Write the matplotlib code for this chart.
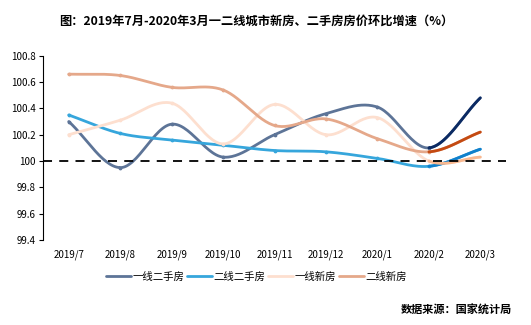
import matplotlib.pyplot as plt
import numpy as np

plt.rcParams['font.family'] = ['Noto Sans CJK SC', 'DejaVu Sans']

# Data
months = ['2019/7', '2019/8', '2019/9', '2019/10', '2019/11',
          '2019/12', '2020/1', '2020/2', '2020/3']
tier1_resale = [100.3, 99.95, 100.28, 100.03, 100.2, 100.36, 100.41, 100.1, 100.48]
tier2_resale = [100.35, 100.21, 100.16, 100.12, 100.08, 100.07, 100.02, 99.96, 100.09]
tier1_new = [100.2, 100.31, 100.44, 100.13, 100.43, 100.2, 100.33, 100.0, 100.03]
tier2_new = [100.66, 100.65, 100.56, 100.54, 100.27, 100.32, 100.17, 100.07, 100.22]

series = [
    ('一线二手房', tier1_resale, '#5D7497', '#0B2A63'),
    ('二线二手房', tier2_resale, '#36A6DC', '#1180CC'),
    ('一线新房', tier1_new, '#FDDFCF', '#F8B890'),
    ('二线新房', tier2_new, '#E5A88A', '#C44A12'),
]


def smooth(x, y, n=30):
    # Catmull-Rom spline through the points (like Excel's smoothed line)
    x = np.asarray(x, float)
    y = np.asarray(y, float)
    px = np.concatenate([[2 * x[0] - x[1]], x, [2 * x[-1] - x[-2]]])
    py = np.concatenate([[2 * y[0] - y[1]], y, [2 * y[-1] - y[-2]]])
    xs, ys = [], []
    t = np.linspace(0, 1, n)
    for i in range(1, len(px) - 2):
        for p, out in ((px, xs), (py, ys)):
            p0, p1, p2, p3 = p[i - 1], p[i], p[i + 1], p[i + 2]
            out.append(0.5 * ((2 * p1) + (-p0 + p2) * t
                              + (2 * p0 - 5 * p1 + 4 * p2 - p3) * t ** 2
                              + (-p0 + 3 * p1 - 3 * p2 + p3) * t ** 3))
    return np.concatenate(xs), np.concatenate(ys)


fig = plt.figure(figsize=(5.31, 3.25), dpi=100)
ax = fig.add_axes([0.081, 0.2615, 0.872, 0.567])

x = np.arange(len(months))
handles = []
for name, vals, col, dark in series:
    sx, sy = smooth(x, vals)
    h, = ax.plot(sx, sy, color=col, lw=2, label=name, solid_capstyle='round')
    ax.scatter(x[:-1], vals[:-1], s=3, color=col, zorder=3)
    handles.append(h)
for name, vals, col, dark in series:
    sx, sy = smooth(x, vals)
    m = sx >= x[-2]
    ax.plot(sx[m], sy[m], color=dark, lw=2, solid_capstyle='round', zorder=4)

ax.axhline(100, color='black', lw=1.3, ls=(0, (5, 4)), zorder=5)

ax.set_xlim(-0.5, 8.5)
ax.set_ylim(99.4, 100.8)
ax.set_yticks(np.arange(99.4, 100.81, 0.2))
ax.set_yticklabels(['99.4', '99.6', '99.8', '100', '100.2', '100.4', '100.6', '100.8'])
ax.set_xticks(x)
ax.set_xticklabels(months)
ax.tick_params(axis='x', length=0, labelsize=7, pad=7)
ax.tick_params(axis='y', length=3, width=0.8, labelsize=7, pad=2)
for s in ['top', 'right', 'bottom']:
    ax.spines[s].set_visible(False)
ax.spines['left'].set_linewidth(0.8)

fig.text(0.483, 0.935, '图：2019年7月-2020年3月一二线城市新房、二手房房价环比增速（%）',
         ha='center', va='center', fontsize=8.8, fontweight='bold')
fig.legend(handles=handles, loc='center', bbox_to_anchor=(0.483, 0.148), ncol=4,
           frameon=False, fontsize=7.5, handlelength=2.4, handletextpad=0.1,
           columnspacing=0.3)
fig.text(0.965, 0.045, '数据来源：国家统计局', ha='right', va='center',
         fontsize=8, fontweight='bold')

fig.savefig('out.png', dpi=100)
